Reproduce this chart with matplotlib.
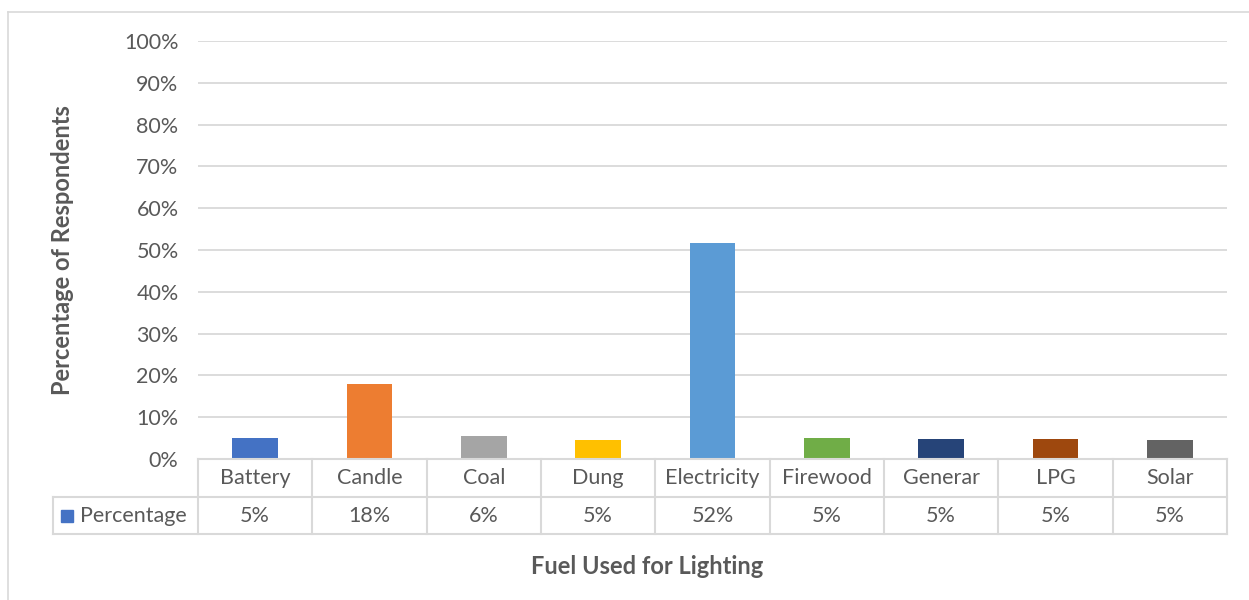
import matplotlib.pyplot as plt
from matplotlib.lines import Line2D
from matplotlib.patches import Rectangle

categories = ['Battery', 'Candle', 'Coal', 'Dung', 'Electricity', 'Firewood', 'Generar', 'LPG', 'Solar']
percentages = [5.0, 17.9, 5.6, 4.6, 51.7, 5.0, 4.8, 4.8, 4.6]
bar_colors = ['#4472C4', '#ED7D31', '#A5A5A5', '#FFC000', '#5B9BD5',
              '#70AD47', '#264478', '#9E480E', '#636363']
yticks = [0, 10, 20, 30, 40, 50, 60, 70, 80, 90, 100]
series_name = 'Percentage'

W, H = 1249, 600
text_col = '#595959'
grid_col = '#d9d9d9'
fs = 15.5
plt.rcParams['font.family'] = ['Lato', 'DejaVu Sans']

fig = plt.figure(figsize=(W / 100, H / 100), dpi=100)

# outer chart frame (only left and top visible in the crop)
fig.add_artist(Line2D([8 / W, 8 / W], [0, 1 - 12 / H], transform=fig.transFigure,
                      color=grid_col, lw=1.2))
fig.add_artist(Line2D([8 / W, 1], [1 - 12 / H, 1 - 12 / H], transform=fig.transFigure,
                      color=grid_col, lw=1.2))

left, right, top, bottom = 198, 1227, 41, 459
ax = fig.add_axes([left / W, 1 - bottom / H, (right - left) / W, (bottom - top) / H])

x = list(range(len(categories)))
ax.bar(x, percentages, width=0.4, color=bar_colors, zorder=3)

ax.set_xlim(-0.5, len(categories) - 0.5)
ax.set_ylim(0, 100)
ax.set_yticks(yticks)
ax.set_yticklabels([f'{t}%' for t in yticks], fontsize=fs, color=text_col)
ax.tick_params(axis='y', length=0, pad=14)
ax.set_xticks([])
ax.grid(axis='y', color=grid_col, lw=1.3, zorder=0)
for s in ax.spines.values():
    s.set_visible(False)

ax.set_ylabel('Percentage of Respondents', fontsize=17, fontweight='bold', color=text_col)
ax.yaxis.set_label_coords(-124 / (right - left), 0.5)

# data table under the plot
px = (bottom - top)  # axes height in pixels
colw = (right - left) / len(categories)
tr = ax.get_xaxis_transform()
y0 = 0
y1 = -38 / px
y2 = -75 / px
legend_left = -0.5 - (left - 53) / colw
n = len(categories)
lw = 1.5
ax.add_line(Line2D([-0.5, n - 0.5], [y0, y0], transform=tr, color=grid_col, lw=lw, clip_on=False, zorder=4))
ax.add_line(Line2D([legend_left, n - 0.5], [y1, y1], transform=tr, color=grid_col, lw=lw, clip_on=False))
ax.add_line(Line2D([legend_left, n - 0.5], [y2, y2], transform=tr, color=grid_col, lw=lw, clip_on=False))
ax.add_line(Line2D([legend_left, legend_left], [y1, y2], transform=tr, color=grid_col, lw=lw, clip_on=False))
for i in range(n + 1):
    ax.add_line(Line2D([i - 0.5, i - 0.5], [y0, y2], transform=tr, color=grid_col, lw=lw, clip_on=False))

for i, (c, v) in enumerate(zip(categories, percentages)):
    ax.text(i, (y0 + y1) / 2, c, transform=tr, ha='center', va='center', fontsize=fs, color=text_col)
    ax.text(i, (y1 + y2) / 2, f'{v:.0f}%', transform=tr, ha='center', va='center', fontsize=fs, color=text_col)

ax.add_patch(Rectangle((legend_left + 8 / colw, (y1 + y2) / 2 - 6 / px), 12 / colw, 12 / px,
                       transform=tr, color=bar_colors[0], clip_on=False))
ax.text(legend_left + 27 / colw, (y1 + y2) / 2, series_name, transform=tr,
        ha='left', va='center', fontsize=fs, color=text_col)

fig.text(647 / W, 1 - 566 / H, 'Fuel Used for Lighting', ha='center', va='center',
         fontsize=17, fontweight='bold', color=text_col)

fig.savefig('out.png', dpi=100, facecolor='white')
